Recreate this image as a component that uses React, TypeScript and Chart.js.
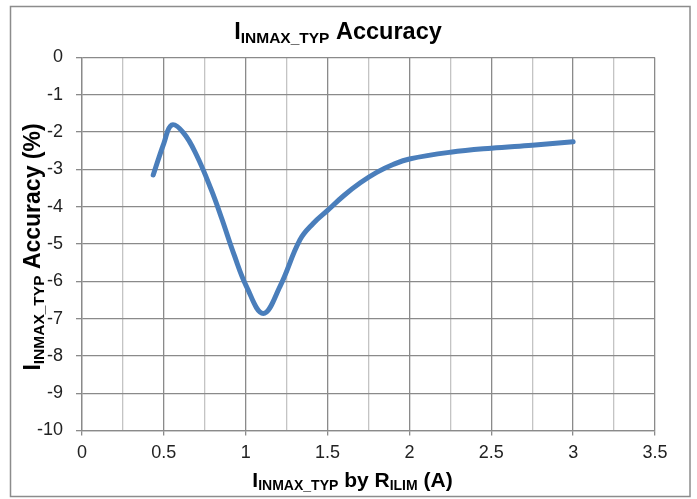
import React, { useEffect, useRef } from "react";
import { Chart, registerables } from "chart.js";

Chart.register(...registerables);

const currentA = [0.435, 0.5, 0.548, 0.62, 0.7, 0.79, 0.853, 0.93, 1.005, 1.107, 1.209, 1.331, 1.412, 1.5, 1.6, 1.7, 1.8, 1.9, 2.0, 2.25, 2.5, 2.75, 3.0];
const accuracyPct = [-3.15, -2.3, -1.81, -2.02, -2.62, -3.55, -4.31, -5.3, -6.14, -6.86, -6.14, -4.89, -4.45, -4.1, -3.7, -3.36, -3.08, -2.87, -2.72, -2.54, -2.43, -2.35, -2.26];

const X_MIN = 0;
const X_MAX = 3.5;
const X_STEP = 0.25;
const Y_MIN = -10;
const Y_MAX = 0;
const Y_STEP = 1;

type Seg = { text: string; sub?: boolean };
const titleSegs: Seg[] = [{ text: "I" }, { text: "INMAX_TYP", sub: true }, { text: " Accuracy" }];
const xTitleSegs: Seg[] = [{ text: "I" }, { text: "INMAX_TYP", sub: true }, { text: " by R" }, { text: "ILIM", sub: true }, { text: " (A)" }];
const yTitleSegs: Seg[] = [{ text: "I" }, { text: "INMAX_TYP", sub: true }, { text: " Accuracy (%)" }];

const FONT = 'Arial, "Liberation Sans", sans-serif';
const MAJOR = "#8a8a8a";
const MINOR = "#c4c4c4";

function drawRich(ctx: CanvasRenderingContext2D, segs: Seg[], cx: number, baseline: number, size: number, subSize: number, drop: number) {
  const fonts = segs.map((s) => `bold ${s.sub ? subSize : size}px ${FONT}`);
  let total = 0;
  const widths = segs.map((s, i) => {
    ctx.font = fonts[i];
    const w = ctx.measureText(s.text).width;
    total += w;
    return w;
  });
  let x = cx - total / 2;
  ctx.textAlign = "left";
  ctx.textBaseline = "alphabetic";
  segs.forEach((s, i) => {
    ctx.font = fonts[i];
    ctx.fillText(s.text, x, baseline + (s.sub ? drop : 0));
    x += widths[i];
  });
}

const isMajor = (v: number) => Math.abs(v * 2 - Math.round(v * 2)) < 1e-6;

export default function App() {
  const ref = useRef<HTMLCanvasElement | null>(null);
  useEffect(() => {
    if (!ref.current) return;
    const framePlugin = {
      id: "frame",
      beforeDraw(chart: any) {
        const ctx = chart.ctx as CanvasRenderingContext2D;
        ctx.save();
        ctx.fillStyle = "#ffffff";
        ctx.fillRect(0, 0, chart.width, chart.height);
        ctx.strokeStyle = "#8c8c8c";
        ctx.lineWidth = 1.5;
        ctx.strokeRect(10.5, 6.5, 679.5, 490);
        ctx.restore();
      },
      afterDraw(chart: any) {
        const ctx = chart.ctx as CanvasRenderingContext2D;
        ctx.save();
        ctx.fillStyle = "#000000";
        drawRich(ctx, titleSegs, 338, 38.5, 23.5, 15.5, 4);
        drawRich(ctx, xTitleSegs, 352.5, 486.5, 21, 14, 3.5);
        ctx.translate(40, 247);
        ctx.rotate(-Math.PI / 2);
        drawRich(ctx, yTitleSegs, 0, 0, 23, 15.5, 4);
        ctx.restore();
      },
    };
    const chart = new Chart(ref.current, {
      type: "line",
      data: {
        datasets: [
          {
            data: currentA.map((x, i) => ({ x, y: accuracyPct[i] })),
            borderColor: "#4a7ebb",
            borderWidth: 5,
            pointRadius: 0,
            tension: 0.4,
            borderCapStyle: "round",
            borderJoinStyle: "round",
            fill: false,
          } as any,
        ],
      },
      options: {
        responsive: false,
        animation: false,
        devicePixelRatio: 1,
        layout: { padding: { top: 57.5, right: 42, left: 0, bottom: 0 } },
        plugins: { legend: { display: false }, title: { display: false }, tooltip: { enabled: false } },
        scales: {
          x: {
            type: "linear",
            min: X_MIN,
            max: X_MAX,
            afterFit: (s: any) => {
              s.height = 68.5;
            },
            ticks: {
              stepSize: X_STEP,
              autoSkip: false,
              maxRotation: 0,
              padding: 6.5,
              color: "#222",
              font: { family: FONT, size: 18 },
              callback: (v: any) => (isMajor(Number(v)) ? String(Number(v)) : ""),
            },
            grid: {
              color: (c: any) => (isMajor(c.tick.value) ? MAJOR : MINOR),
              tickColor: (c: any) => (isMajor(c.tick.value) ? MAJOR : "rgba(0,0,0,0)"),
              tickLength: 5,
              lineWidth: 1.3,
            },
            border: { color: MAJOR, width: 1.3 },
          },
          y: {
            type: "linear",
            min: Y_MIN,
            max: Y_MAX,
            afterFit: (s: any) => {
              s.width = 82;
            },
            ticks: {
              stepSize: Y_STEP,
              padding: 13,
              color: "#222",
              font: { family: FONT, size: 18 },
            },
            grid: { color: MAJOR, tickColor: MAJOR, tickLength: 6, lineWidth: 1.3 },
            border: { color: MAJOR, width: 1.3 },
          },
        },
      },
      plugins: [framePlugin],
    } as any);
    return () => chart.destroy();
  }, []);
  return (
    <div style={{ position: "fixed", left: 0, top: 0, width: 697, height: 499, background: "#fff" }}>
      <canvas ref={ref} width={697} height={499} style={{ display: "block" }} />
    </div>
  );
}
